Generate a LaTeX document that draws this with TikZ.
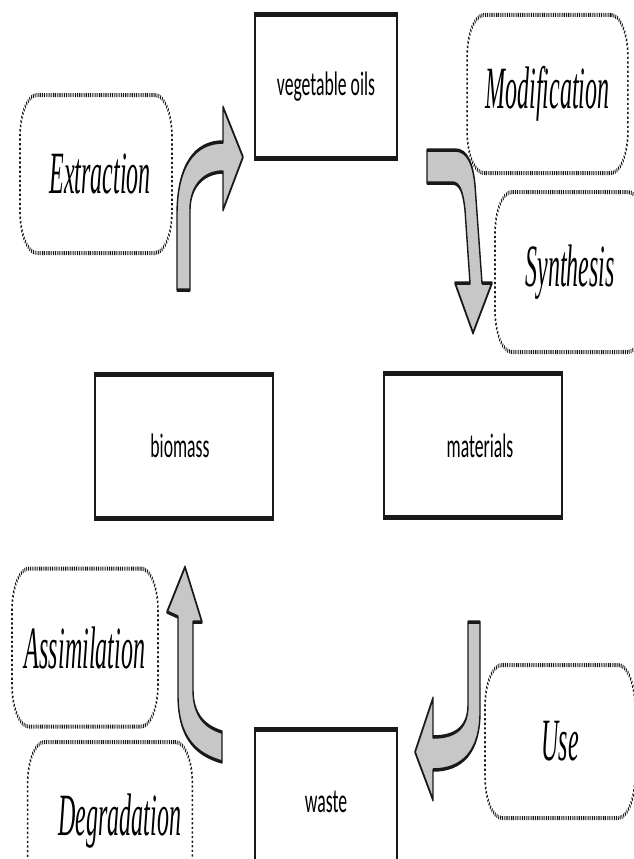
\documentclass[tikz,border=0pt]{standalone}
\usepackage{fontspec}
\setmainfont{Liberation Serif}
\newfontfamily\boxfont[FakeStretch=1.3]{Carlito}
\usepackage{xcolor}
\usepackage{tikz}

\definecolor{arrowgray}{gray}{0.78}

\begin{document}
\begin{tikzpicture}[x=1pt,y=-1pt,
   stagebox/.style={draw=black!90,line width=5pt,minimum height=144pt,
      font=\boxfont\fontsize{34}{34}\selectfont},
   stepcloud/.style={draw=black!90,line width=4pt,dash pattern=on 2.2pt off 2.4pt,
      rounded corners=42pt,minimum height=158pt,
      font=\itshape\fontsize{60}{60}\selectfont},
   fatarrow/.style={draw=black!90,fill=arrowgray,line width=3.5pt,line join=round}]
   \useasboundingbox (0,0) rectangle (633,859);

   % whole drawing squeezed sideways, as in the original
   \begin{scope}[x=2.5pt,transform canvas={xscale=0.4}]
      % Stages
      \node[stagebox,minimum width=355pt] (oils) at (326,86.5) {vegetable oils};
      \node[stagebox,minimum width=445pt] (biomass) at (184,446) {\hspace*{-20pt}biomass};
      \node[stagebox,minimum width=445pt] (materials) at (473,445.5) {\hspace*{35pt}materials};
      \node[stagebox,minimum width=355pt,minimum height=145pt] (waste) at (326,802) {waste};

      % Processes
      \node[stepcloud,minimum width=380pt] (extraction) at (96,174) {\hspace*{20pt}Extraction};
      \node[stepcloud,minimum width=402pt] (modification) at (547.5,94) {Modification};
      \node[stepcloud,minimum width=375pt,minimum height=160pt] (synthesis) at (570,272) {Synthesis};
      \node[stepcloud,minimum width=365pt] (assimilation) at (85,647.5) {Assimilation};
      \node[stepcloud,minimum width=412pt] (degradation) at (110,821) {\hspace*{50pt}Degradation};
      \node[stepcloud,minimum width=375pt,minimum height=153pt] (use) at (560,741.5) {Use};

      % Arrows
      \draw[fatarrow] (177,290) -- (177,215) .. controls (177,165) and (195,142) .. (223,142)
         -- (223,107) -- (243,157) -- (223,210) -- (223,172)
         .. controls (205,172) and (190,185) .. (190,210) -- (190,290) -- cycle;
      \draw[fatarrow] (427,150) -- (455,150) .. controls (468,150) and (473,165) .. (475,185)
         -- (482,283) -- (492,283) -- (473,333) -- (455,283) -- (470,283) -- (465,210)
         .. controls (463,192) and (460,183) .. (452,183) -- (427,183) -- cycle;
      \draw[fatarrow] (468,622) -- (480,622) -- (480,712) .. controls (480,752) and (462,770) .. (433,770)
         -- (433,800) -- (415,752) -- (433,698) -- (433,737)
         .. controls (455,737) and (468,728) .. (468,705) -- cycle;
      \draw[fatarrow] (222,732) .. controls (205,727) and (193,715) .. (193,690)
         -- (193,622) -- (202,622) -- (185,567) -- (167,612) -- (178,617)
         -- (178,695) .. controls (178,740) and (198,755) .. (222,762) -- cycle;
   \end{scope}
\end{tikzpicture}
\end{document}
